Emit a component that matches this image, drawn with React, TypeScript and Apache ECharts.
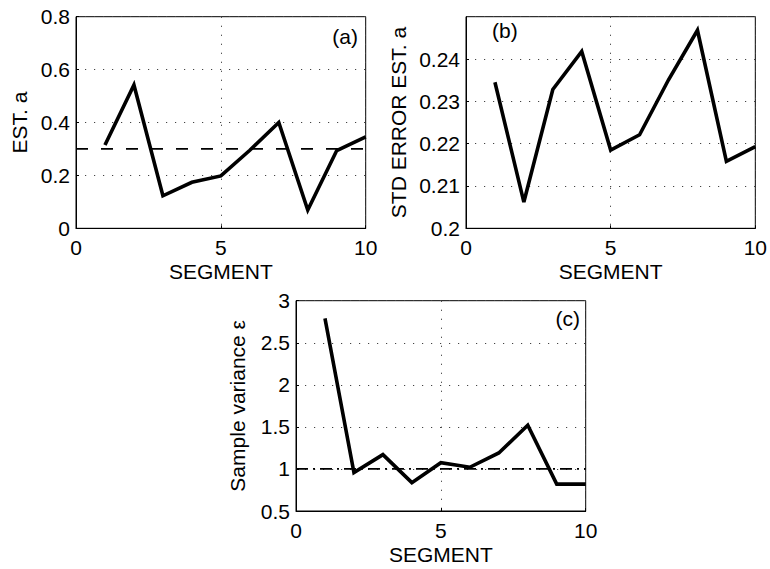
import React, { useEffect, useRef } from "react";
import * as echarts from "echarts";

const segments = [1, 2, 3, 4, 5, 6, 7, 8, 9, 10];
const estA = [0.315, 0.542, 0.123, 0.174, 0.198, 0.295, 0.4, 0.069, 0.294, 0.346];
const stdErrEstA = [0.2345, 0.2062, 0.2328, 0.2418, 0.2185, 0.2221, 0.2351, 0.2468, 0.2158, 0.2193];
const sampleVariance = [2.79, 0.956, 1.17, 0.837, 1.074, 1.02, 1.19, 1.52, 0.82, 0.82];
const trueA = 0.3;
const unitVariance = 1;
const xTicks = [0, 5, 10];
const panelLabels = ["(a)", "(b)", "(c)"];
const yNames = ["EST. a", "STD ERROR EST. a", "Sample variance \u03b5"];
const xName = "SEGMENT";

const FONT = "'Liberation Sans', Arial, Helvetica, sans-serif";
const FS = 21;

export default function App() {
  const ref = useRef<HTMLDivElement>(null);
  useEffect(() => {
    if (!ref.current) return;
    const chart = echarts.init(ref.current, undefined, { renderer: "svg" });
    const grids = [
      { left: 76, top: 16.7, width: 289.7, height: 211.6 },
      { left: 466, top: 16.7, width: 289.7, height: 211.6 },
      { left: 296, top: 300.7, width: 289.7, height: 210.3 },
    ];
    const dotted = { color: "#444", width: 1, type: [1.2, 7.8] as any };
    const xAxes = grids.map((_, i) => ({
      type: "value",
      gridIndex: i,
      min: xTicks[0],
      max: xTicks[xTicks.length - 1],
      interval: xTicks[1] - xTicks[0],
      name: xName,
      nameLocation: "middle",
      nameGap: 33,
      nameTextStyle: { color: "#000", fontSize: FS, fontFamily: FONT },
      axisLine: { show: true, lineStyle: { color: "#000", width: 1 } },
      axisTick: { show: true, inside: true, length: 3, lineStyle: { color: "#000" } },
      axisLabel: { color: "#000", fontSize: FS, fontFamily: FONT, margin: 9 },
      splitLine: { show: true, lineStyle: dotted },
    }));
    const yCfg = [
      { min: 0, max: 0.8, interval: 0.2, nameGap: 46, showMax: true },
      { min: 0.2, max: 0.25, interval: 0.01, nameGap: 57, showMax: false },
      { min: 0.5, max: 3, interval: 0.5, nameGap: 48, showMax: true },
    ];
    const yAxes = yCfg.map((c, i) => ({
      type: "value",
      gridIndex: i,
      min: c.min,
      max: c.max,
      interval: c.interval,
      name: yNames[i],
      nameLocation: "middle",
      nameGap: c.nameGap,
      nameTextStyle: { color: "#000", fontSize: FS, fontFamily: FONT },
      axisLine: { show: true, lineStyle: { color: "#000", width: 1 } },
      axisTick: { show: true, inside: true, length: 3, lineStyle: { color: "#000" } },
      axisLabel: {
        color: "#000",
        fontSize: FS,
        fontFamily: FONT,
        margin: 6,
        showMaxLabel: c.showMax,
        formatter: (v: number) => String(Math.round(v * 1000) / 1000),
      },
      splitLine: { show: true, lineStyle: dotted },
    }));
    const lineSeries = (data: number[], i: number) => ({
      type: "line",
      xAxisIndex: i,
      yAxisIndex: i,
      data: segments.map((s, k) => [s, data[k]]),
      symbol: "none",
      lineStyle: { color: "#000", width: 3.6, join: "miter" },
      z: 5,
    });
    const refSeries = (val: number, i: number, type: any) => ({
      type: "line",
      xAxisIndex: i,
      yAxisIndex: i,
      data: [[xTicks[0], val], [xTicks[xTicks.length - 1], val]],
      symbol: "none",
      lineStyle: { color: "#000", width: 1.8, type },
      z: 4,
    });
    chart.setOption({
      animation: false,
      backgroundColor: "#fff",
      grid: grids.map((g) => ({
        ...g,
        show: true,
        borderColor: "#000",
        borderWidth: 1,
        backgroundColor: "transparent",
      })),
      xAxis: xAxes,
      yAxis: yAxes,
      series: [
        refSeries(trueA, 0, [12, 13]),
        lineSeries(estA, 0),
        lineSeries(stdErrEstA, 1),
        refSeries(unitVariance, 2, [12, 5, 2, 5]),
        lineSeries(sampleVariance, 2),
      ],
      graphic: [
        { type: "text", right: 770 - 358, top: 26, style: { text: panelLabels[0], fontSize: FS, fontFamily: FONT, fill: "#000" } },
        { type: "text", left: 492, top: 20, style: { text: panelLabels[1], fontSize: FS, fontFamily: FONT, fill: "#000" } },
        { type: "text", right: 770 - 580, top: 308, style: { text: panelLabels[2], fontSize: FS, fontFamily: FONT, fill: "#000" } },
      ],
    });
    return () => chart.dispose();
  }, []);
  return (
    <div
      ref={ref}
      style={{ position: "fixed", left: 0, top: 0, width: 770, height: 569 }}
    />
  );
}
